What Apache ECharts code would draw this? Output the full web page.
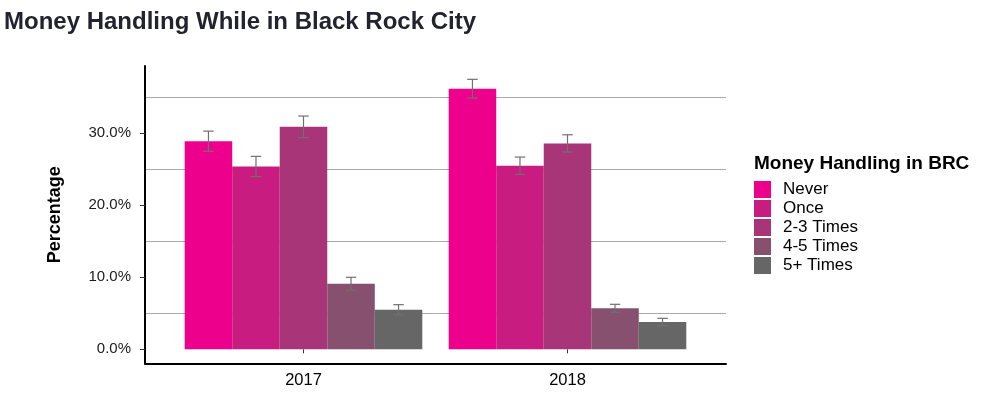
<!DOCTYPE html>
<html>
<head>
<meta charset="utf-8">
<script src="https://cdn.jsdelivr.net/npm/echarts@6/dist/echarts.min.js"></script>
<style>
  html, body { margin: 0; padding: 0; background: #fff; }
  #main { width: 982px; height: 399px; }
</style>
</head>
<body>
<div id="main"></div>
<script>
// data (percent)
var years = ['2017', '2018'];
var groups = ['Never', 'Once', '2-3 Times', '4-5 Times', '5+ Times'];
var colors = ['#ec008c', '#c91c80', '#a83577', '#87506f', '#666666'];

var never = [28.9, 36.2];
var once = [25.4, 25.5];
var twoThree = [30.9, 28.6];
var fourFive = [9.1, 5.7];
var fivePlus = [5.5, 3.8];

// half width of error bars
var neverErr = [1.4, 1.3];
var onceErr = [1.4, 1.2];
var twoThreeErr = [1.5, 1.2];
var fourFiveErr = [0.9, 0.55];
var fivePlusErr = [0.7, 0.5];

var yTicks = [0, 10, 20, 30];

var allValues = [never, once, twoThree, fourFive, fivePlus];
var allErrs = [neverErr, onceErr, twoThreeErr, fourFiveErr, fivePlusErr];

var font = "'Liberation Sans', Arial, sans-serif";
var myChart = echarts.init(document.getElementById('main'));

var series = [];
// empty series, keep the frame grids alive
series.push({ type: 'line', xAxisIndex: 0, yAxisIndex: 0, data: [], silent: true });
series.push({ type: 'line', xAxisIndex: 1, yAxisIndex: 1, data: [], silent: true });

for (var i = 0; i < groups.length; i++) {
  series.push({
    name: groups[i],
    type: 'bar',
    xAxisIndex: 2,
    yAxisIndex: 2,
    barWidth: '18%',
    barGap: '0%',
    itemStyle: { color: colors[i] },
    data: allValues[i]
  });
}

for (var i = 0; i < groups.length; i++) {
  var errData = [];
  for (var j = 0; j < years.length; j++) {
    errData.push([j, allValues[i][j] - allErrs[i][j], allValues[i][j] + allErrs[i][j]]);
  }
  series.push({
    type: 'custom',
    xAxisIndex: 2,
    yAxisIndex: 2,
    silent: true,
    z: 5,
    data: errData,
    renderItem: (function (idx) {
      return function (params, api) {
        var cat = api.value(0);
        var lo = api.coord([cat, api.value(1)]);
        var hi = api.coord([cat, api.value(2)]);
        var band = api.size([1, 0])[0];
        var bw = band * 0.9 / groups.length;
        var x = lo[0] + (idx - (groups.length - 1) / 2) * bw;
        var half = bw * 0.11;
        var st = { stroke: '#707070', lineWidth: 1.2 };
        return {
          type: 'group',
          children: [
            { type: 'line', shape: { x1: x, y1: lo[1], x2: x, y2: hi[1] }, style: st },
            { type: 'line', shape: { x1: x - half, y1: lo[1], x2: x + half, y2: lo[1] }, style: st },
            { type: 'line', shape: { x1: x - half, y1: hi[1], x2: x + half, y2: hi[1] }, style: st }
          ]
        };
      };
    })(i)
  });
}

myChart.setOption({
  animation: false,
  backgroundColor: '#ffffff',
  textStyle: { fontFamily: font },
  title: [{
    text: 'Money Handling While in Black Rock City',
    left: 4,
    top: 10,
    padding: 0,
    textStyle: { fontFamily: font, fontSize: 24, fontWeight: 'bold', color: '#22232f' }
  }, {
    text: 'Money Handling in BRC',
    left: 754,
    top: 154,
    padding: 0,
    textStyle: { fontFamily: font, fontSize: 19, fontWeight: 'bold', color: '#000' }
  }],
  legend: {
    orient: 'vertical',
    left: 754,
    top: 181,
    padding: 0,
    itemWidth: 17,
    itemHeight: 17,
    itemGap: 2,
    icon: 'rect',
    data: groups,
    textStyle: { fontFamily: font, fontSize: 17, lineHeight: 17, color: '#000', padding: [0, 0, 0, 7] }
  },
  grid: [
    // frame (axis lines down to the x axis)
    { left: 145, right: 256, top: 66, bottom: 35.7 },
    // gridlines + y labels
    { left: 145, right: 256, top: 66, bottom: 49.7 },
    // bars
    { left: 171.5, right: 282.5, top: 66, bottom: 49.7 }
  ],
  xAxis: [{
    gridIndex: 0, type: 'value', min: 0, max: 1,
    axisLine: { show: true, lineStyle: { color: '#000', width: 2 } },
    axisTick: { show: false }, axisLabel: { show: false }, splitLine: { show: false }
  }, {
    gridIndex: 1, type: 'value', min: 0, max: 1, show: false
  }, {
    gridIndex: 2, type: 'category', data: years, offset: 14,
    axisLine: { show: false },
    axisTick: { show: true, alignWithLabel: true, length: 4, lineStyle: { color: '#333' } },
    axisLabel: { fontFamily: font, fontSize: 16.5, color: '#000', margin: 9 },
    splitLine: { show: false }
  }],
  yAxis: [{
    gridIndex: 0, type: 'value', min: 0, max: 1,
    name: 'Percentage', nameLocation: 'middle', nameGap: 81,
    nameTextStyle: { fontFamily: font, fontSize: 18, fontWeight: 'bold', color: '#000' },
    axisLine: { show: true, lineStyle: { color: '#000', width: 2 } },
    axisTick: { show: false }, axisLabel: { show: false }, splitLine: { show: false }
  }, {
    gridIndex: 1, type: 'value', min: yTicks[0], max: 39.35, interval: 10,
    axisLine: { show: false },
    axisTick: { show: true, length: 5, customValues: yTicks, lineStyle: { color: '#333' } },
    axisLabel: {
      fontFamily: font, fontSize: 15, color: '#1a1a1a', margin: 14,
      padding: [3, 0, 0, 0],
      customValues: yTicks,
      formatter: function (v) { return v.toFixed(1) + '%'; }
    },
    splitLine: { show: false },
    minorTick: { show: false, splitNumber: 2 },
    minorSplitLine: { show: true, lineStyle: { color: '#ababab', width: 1 } }
  }, {
    gridIndex: 2, type: 'value', min: 0, max: 39.35, show: false,
    splitLine: { show: false }
  }],
  series: series
});
</script>
</body>
</html>
